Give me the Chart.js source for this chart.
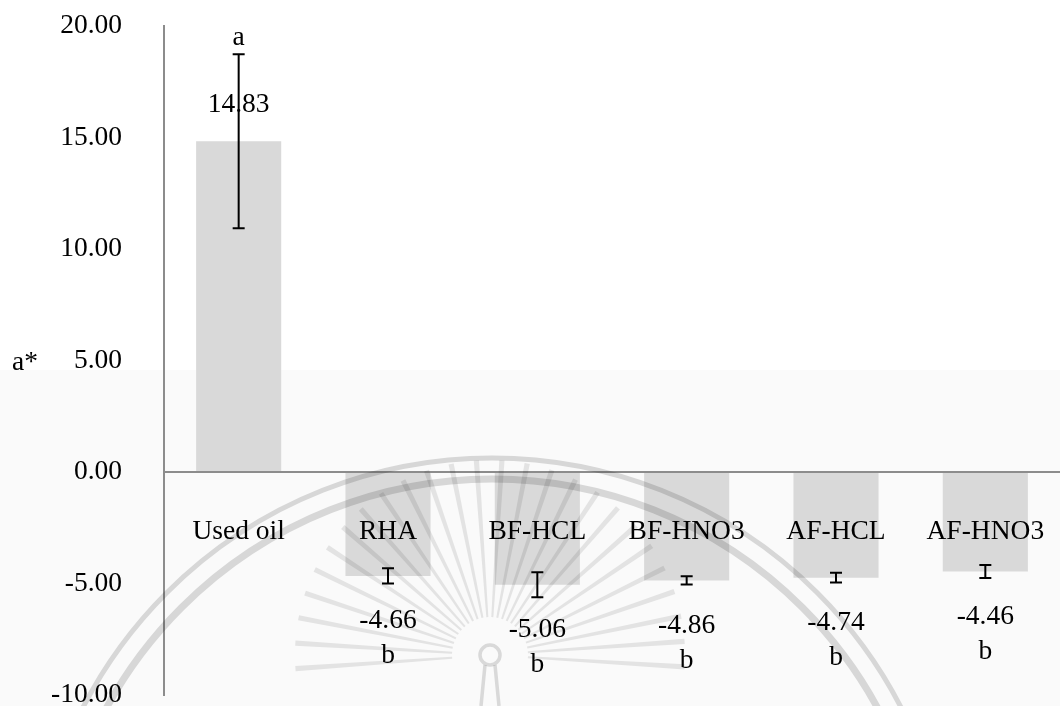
<!DOCTYPE html>
<html>
<head>
<meta charset="utf-8">
<script src="https://cdn.jsdelivr.net/npm/chart.js@4/dist/chart.umd.min.js"></script>
<style>
  html, body { margin: 0; padding: 0; background: #ffffff; }
  #wrap { width: 1060px; height: 706px; position: relative; }
</style>
</head>
<body>
<div id="wrap"><canvas id="chart" width="1060" height="706"></canvas></div>
<script>
// a* colour values per sample, with standard deviations and group letters
const categories   = ['Used oil', 'RHA', 'BF-HCL', 'BF-HNO3', 'AF-HCL', 'AF-HNO3'];
const aStarMeans   = [14.83, -4.66, -5.06, -4.86, -4.74, -4.46];
const aStarErrors  = [3.90, 0.34, 0.56, 0.18, 0.22, 0.29];
const groupLetters = ['a', 'b', 'b', 'b', 'b', 'b'];
const yTickValues  = [-10, -5, 0, 5, 10, 15, 20];
const yAxisTitle   = 'a*';

const FONT = '"Liberation Serif", "Times New Roman", serif';
const FONT_SIZE = 27.5;
const AXIS_GREY = '#8c8c8c';

// light page tint and faint seal watermark behind the plot
const pageBackground = {
  id: 'pageBackground',
  beforeDraw(chart) {
    const { ctx, width, height } = chart;
    ctx.save();
    ctx.fillStyle = '#ffffff';
    ctx.fillRect(0, 0, width, height);
    ctx.fillStyle = '#fafafa';
    ctx.fillRect(0, 370, width, height - 370);
    ctx.restore();
  }
};

const sealWatermark = {
  id: 'sealWatermark',
  afterDatasetsDraw(chart) {
    const { ctx } = chart;
    ctx.save();
    ctx.globalCompositeOperation = 'multiply';
    // two concentric rings
    ctx.strokeStyle = '#dcdcdc';
    ctx.lineWidth = 5;
    ctx.beginPath(); ctx.arc(492, 918, 460, Math.PI, 2 * Math.PI); ctx.stroke();
    ctx.lineWidth = 7;
    ctx.beginPath(); ctx.arc(492, 918, 439, Math.PI, 2 * Math.PI); ctx.stroke();
    // fan of tapered rays round the small centre disc
    ctx.fillStyle = '#e8e8e8';
    const cx = 490, cy = 655;
    for (let deg = -184; deg <= 4; deg += 7.5) {
      const a = deg * Math.PI / 180;
      const nx = -Math.sin(a), ny = Math.cos(a);
      const r0 = 38, r1 = 195, w0 = 1, w1 = 2.6;
      ctx.beginPath();
      ctx.moveTo(cx + r0 * Math.cos(a) + w0 * nx, cy + r0 * Math.sin(a) + w0 * ny);
      ctx.lineTo(cx + r1 * Math.cos(a) + w1 * nx, cy + r1 * Math.sin(a) + w1 * ny);
      ctx.lineTo(cx + r1 * Math.cos(a) - w1 * nx, cy + r1 * Math.sin(a) - w1 * ny);
      ctx.lineTo(cx + r0 * Math.cos(a) - w0 * nx, cy + r0 * Math.sin(a) - w0 * ny);
      ctx.closePath();
      ctx.fill();
    }
    ctx.strokeStyle = '#dedede';
    ctx.lineWidth = 3.5;
    ctx.beginPath(); ctx.arc(cx, cy, 10, 0, 2 * Math.PI); ctx.stroke();
    ctx.beginPath();
    ctx.moveTo(cx - 5, cy + 10); ctx.lineTo(cx - 9, 706);
    ctx.moveTo(cx + 5, cy + 10); ctx.lineTo(cx + 9, 706);
    ctx.stroke();
    ctx.restore();
  }
};

// error bars, value labels, group letters, category names and axis title
const annotations = {
  id: 'annotations',
  afterDatasetsDraw(chart) {
    const { ctx, scales: { x, y } } = chart;
    const zeroY = y.getPixelForValue(0);
    ctx.save();
    ctx.fillStyle = '#000000';
    ctx.font = FONT_SIZE + 'px ' + FONT;
    ctx.textAlign = 'center';
    ctx.textBaseline = 'middle';

    aStarMeans.forEach((v, i) => {
      const cx = x.getPixelForValue(i);
      const yEnd = y.getPixelForValue(v);
      const yHi = y.getPixelForValue(v + aStarErrors[i]);
      const yLo = y.getPixelForValue(v - aStarErrors[i]);

      // error bar
      ctx.strokeStyle = '#000000';
      ctx.lineWidth = 2;
      ctx.beginPath();
      ctx.moveTo(cx, yHi); ctx.lineTo(cx, yLo);
      ctx.moveTo(cx - 6, yHi); ctx.lineTo(cx + 6, yHi);
      ctx.moveTo(cx - 6, yLo); ctx.lineTo(cx + 6, yLo);
      ctx.stroke();

      // value and letter
      if (v >= 0) {
        ctx.fillText(v.toFixed(2), cx, yEnd - 37);
        ctx.fillText(groupLetters[i], cx, yHi - 17);
      } else {
        const labelY = yEnd + 45;
        ctx.fillText(v.toFixed(2), cx, labelY);
        ctx.fillText(groupLetters[i], cx, labelY + 35);
      }

      // category name just below the zero line
      ctx.fillText(categories[i], cx, zeroY + 60);
    });

    // horizontal axis title beside the 5.00 tick
    ctx.fillText(yAxisTitle, 25, y.getPixelForValue(5) + 2);
    ctx.restore();
  }
};

new Chart(document.getElementById('chart'), {
  type: 'bar',
  data: {
    labels: categories,
    datasets: [{
      data: aStarMeans,
      backgroundColor: '#d9d9d9',
      borderWidth: 0,
      barPercentage: 0.57,
      categoryPercentage: 1.0
    }]
  },
  options: {
    responsive: false,
    animation: false,
    devicePixelRatio: 1,
    layout: { padding: { top: 26, bottom: 11, left: 0, right: -10 } },
    plugins: { legend: { display: false }, tooltip: { enabled: false } },
    scales: {
      x: {
        display: false,
        offset: true
      },
      y: {
        min: -10,
        max: 20,
        afterBuildTicks(scale) {
          scale.ticks = yTickValues.map(v => ({ value: v }));
        },
        afterFit(scale) {
          scale.width = 164;
          scale.paddingTop = 0;
          scale.paddingBottom = 0;
        },
        ticks: {
          color: '#000000',
          padding: 42,
          font: { family: FONT, size: FONT_SIZE },
          callback: v => Number(v).toFixed(2)
        },
        grid: {
          drawTicks: false,
          lineWidth: 2,
          color: c => (c.tick && c.tick.value === 0 ? AXIS_GREY : 'rgba(0,0,0,0)')
        },
        border: { display: true, color: AXIS_GREY, width: 2 }
      }
    }
  },
  plugins: [pageBackground, sealWatermark, annotations]
});
</script>
</body>
</html>
